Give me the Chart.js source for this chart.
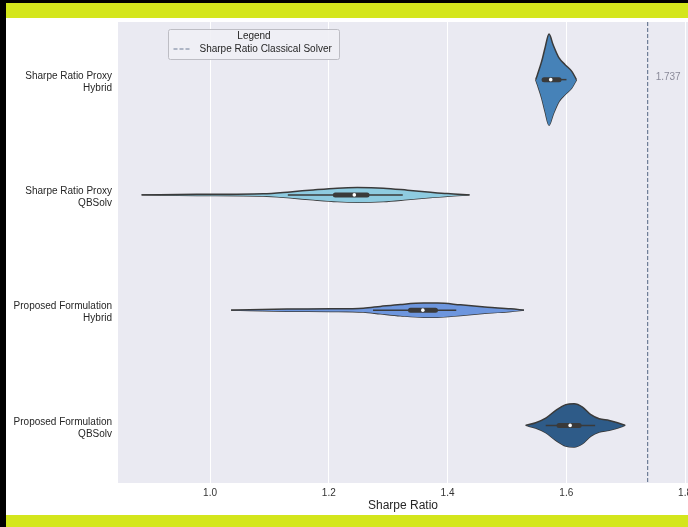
<!DOCTYPE html>
<html>
<head>
<meta charset="utf-8">
<script src="https://cdn.jsdelivr.net/npm/chart.js@4.4.1/dist/chart.umd.min.js"></script>
<style>
  html, body { margin: 0; padding: 0; background: #000; width: 688px; height: 527px; overflow: hidden; }
  #band { position: absolute; left: 6px; top: 3px; width: 682px; height: 524px; background: #D4E61C; }
  #sheet { position: absolute; left: 0; top: 15px; width: 682px; height: 497px; background: #fff; }
  #wrap { position: relative; width: 686px; height: 497px; }
</style>
</head>
<body>
<div id="band"><div id="sheet"><div id="wrap"><canvas id="chart"></canvas></div></div></div>
<script>
// categories, top to bottom
const categories = [
  ["Sharpe Ratio Proxy", "Hybrid"],
  ["Sharpe Ratio Proxy", "QBSolv"],
  ["Proposed Formulation", "Hybrid"],
  ["Proposed Formulation", "QBSolv"]
];
const xTicks = [1.0, 1.2, 1.4, 1.6, 1.8];
const classicalSharpe = 1.737;

// violin outlines: sharpe ratio and half width of density (category units)
const proxyHybridX = [1.5485, 1.5514, 1.5586, 1.5642, 1.5710, 1.5777, 1.5878, 1.5980, 1.6093, 1.6172];
const proxyHybridW = [0, 0.043, 0.159, 0.275, 0.395, 0.304, 0.188, 0.130, 0.072, 0];
const proxyQbsolvX = [0.8847, 0.9781, 1.0895, 1.1350, 1.1738, 1.2143, 1.2481, 1.2920, 1.3325, 1.3713, 1.4000, 1.4371];
const proxyQbsolvW = [0, 0.005, 0.010, 0.026, 0.043, 0.058, 0.063, 0.058, 0.041, 0.023, 0.011, 0];
const propHybridX = [1.0354, 1.1295, 1.2025, 1.2582, 1.2869, 1.3207, 1.3595, 1.3831, 1.4219, 1.4675, 1.5063, 1.5288];
const propHybridW = [0, 0.009, 0.011, 0.017, 0.032, 0.049, 0.061, 0.061, 0.046, 0.026, 0.011, 0];
const propQbsolvX = [1.5316, 1.5485, 1.5654, 1.5823, 1.5992, 1.6132, 1.6273, 1.6414, 1.6554, 1.6723, 1.6864, 1.6993];
const propQbsolvW = [0, 0.023, 0.063, 0.130, 0.180, 0.188, 0.159, 0.093, 0.058, 0.043, 0.023, 0];

// inner box: [whisker low, q1, median, q3, whisker high]
const proxyHybridBox = [1.5620, 1.5626, 1.5738, 1.5878, 1.6003];
const proxyQbsolvBox = [1.1310, 1.2110, 1.2430, 1.2645, 1.3246];
const propHybridBox = [1.2745, 1.3376, 1.3584, 1.3797, 1.4147];
const propQbsolvBox = [1.5654, 1.5878, 1.6065, 1.6216, 1.6486];

const violins = [
  { x: proxyHybridX, w: proxyHybridW, box: proxyHybridBox, color: "#4682B8" },
  { x: proxyQbsolvX, w: proxyQbsolvW, box: proxyQbsolvBox, color: "#8ECBE0" },
  { x: propHybridX, w: propHybridW, box: propHybridBox, color: "#6D96DE" },
  { x: propQbsolvX, w: propQbsolvW, box: propQbsolvBox, color: "#2E5B88" }
];

const outline = "#3a3a3a";
const font = "'Liberation Sans', Arial, sans-serif";
const datasets = [];

violins.forEach((v, i) => {
  const common = { borderColor: outline, borderWidth: 1.5, pointRadius: 0, cubicInterpolationMode: "monotone", order: 4 };
  datasets.push(Object.assign({ data: v.x.map((x, k) => ({ x: x, y: i - v.w[k] })), fill: "+1", backgroundColor: v.color }, common));
  datasets.push(Object.assign({ data: v.x.map((x, k) => ({ x: x, y: i + v.w[k] })), fill: false }, common));
  // whiskers
  datasets.push({ data: [{ x: v.box[0], y: i }, { x: v.box[4], y: i }], borderColor: outline, borderWidth: 1.5, pointRadius: 0, fill: false, order: 2 });
  // quartile box
  datasets.push({ data: [{ x: v.box[1], y: i }, { x: v.box[3], y: i }], borderColor: outline, borderWidth: 5, borderCapStyle: "round", pointRadius: 0, fill: false, order: 1 });
  // median
  datasets.push({ data: [{ x: v.box[2], y: i }], showLine: false, pointRadius: 1.8, pointBorderWidth: 0, pointBackgroundColor: "#ffffff", order: 0 });
});

datasets.push({
  label: "Sharpe Ratio Classical Solver",
  data: [{ x: classicalSharpe, y: -0.5 }, { x: classicalSharpe, y: 3.5 }],
  borderColor: "#6E7D96", borderWidth: 1.2, borderDash: [4, 2], pointRadius: 0, fill: false, order: 3
});

const plotBg = {
  id: "plotBg",
  beforeDraw(chart) {
    const { ctx, chartArea: a } = chart;
    ctx.save();
    ctx.fillStyle = "#EAEAF2";
    ctx.fillRect(a.left, a.top, a.right - a.left, a.bottom - a.top);
    ctx.restore();
  }
};

const extras = {
  id: "extras",
  afterDraw(chart) {
    const { ctx, chartArea: a } = chart;
    const xs = chart.scales.x, ys = chart.scales.y;
    const ref = chart.data.datasets[chart.data.datasets.length - 1];
    ctx.save();
    // value label next to the classical line
    ctx.font = "10px " + font;
    ctx.fillStyle = "#8A8A99";
    ctx.textBaseline = "middle";
    ctx.fillText(classicalSharpe.toFixed(3), xs.getPixelForValue(classicalSharpe) + 8, ys.getPixelForValue(0) - 2);
    // legend box
    const lx = a.left + 50.5, ly = a.top + 7.5, lw = 171, lh = 30;
    ctx.fillStyle = "rgba(240,240,245,0.9)";
    ctx.strokeStyle = "#BDBDC4";
    ctx.lineWidth = 1;
    ctx.beginPath();
    ctx.roundRect(lx, ly, lw, lh, 2);
    ctx.fill();
    ctx.stroke();
    ctx.fillStyle = "#262626";
    ctx.textAlign = "center";
    ctx.fillText("Legend", lx + lw / 2, ly + 7);
    ctx.strokeStyle = ref.borderColor;
    ctx.lineWidth = ref.borderWidth;
    ctx.setLineDash(ref.borderDash);
    ctx.beginPath();
    ctx.moveTo(lx + 5, ly + 19.5);
    ctx.lineTo(lx + 23, ly + 19.5);
    ctx.stroke();
    ctx.setLineDash([]);
    ctx.textAlign = "left";
    ctx.fillText(ref.label, lx + 31, ly + 19.5);
    ctx.restore();
  }
};

new Chart(document.getElementById("chart"), {
  type: "line",
  data: { datasets: datasets },
  options: {
    responsive: true,
    maintainAspectRatio: false,
    animation: false,
    events: [],
    layout: { padding: { top: 4, right: 0, left: 0, bottom: 0 } },
    plugins: { legend: { display: false }, tooltip: { enabled: false } },
    scales: {
      x: {
        type: "linear",
        min: 0.845,
        max: 1.805,
        afterBuildTicks: (s) => { s.ticks = xTicks.map(v => ({ value: v })); },
        afterFit: (s) => { s.height = 32; s.paddingLeft = 0; s.paddingRight = 0; },
        border: { display: false },
        grid: { color: "#ffffff", lineWidth: 1, drawTicks: false },
        ticks: {
          padding: 4,
          color: "#333333",
          font: { family: font, size: 10 },
          maxRotation: 0,
          callback: (v) => v.toFixed(1)
        },
        title: {
          display: true,
          text: "Sharpe Ratio",
          color: "#262626",
          font: { family: font, size: 12 },
          padding: { top: 0, bottom: 2 }
        }
      },
      y: {
        type: "linear",
        min: -0.5,
        max: 3.5,
        reverse: true,
        afterBuildTicks: (s) => { s.ticks = categories.map((c, i) => ({ value: i })); },
        afterFit: (s) => { s.width = 112; s.paddingTop = 0; s.paddingBottom = 0; },
        border: { display: false },
        grid: { display: false, drawTicks: false },
        ticks: {
          padding: 6,
          labelOffset: 2.5,
          color: "#262626",
          font: { family: font, size: 10 },
          callback: (v) => categories[v]
        }
      }
    }
  },
  plugins: [plotBg, extras]
});
</script>
</body>
</html>
